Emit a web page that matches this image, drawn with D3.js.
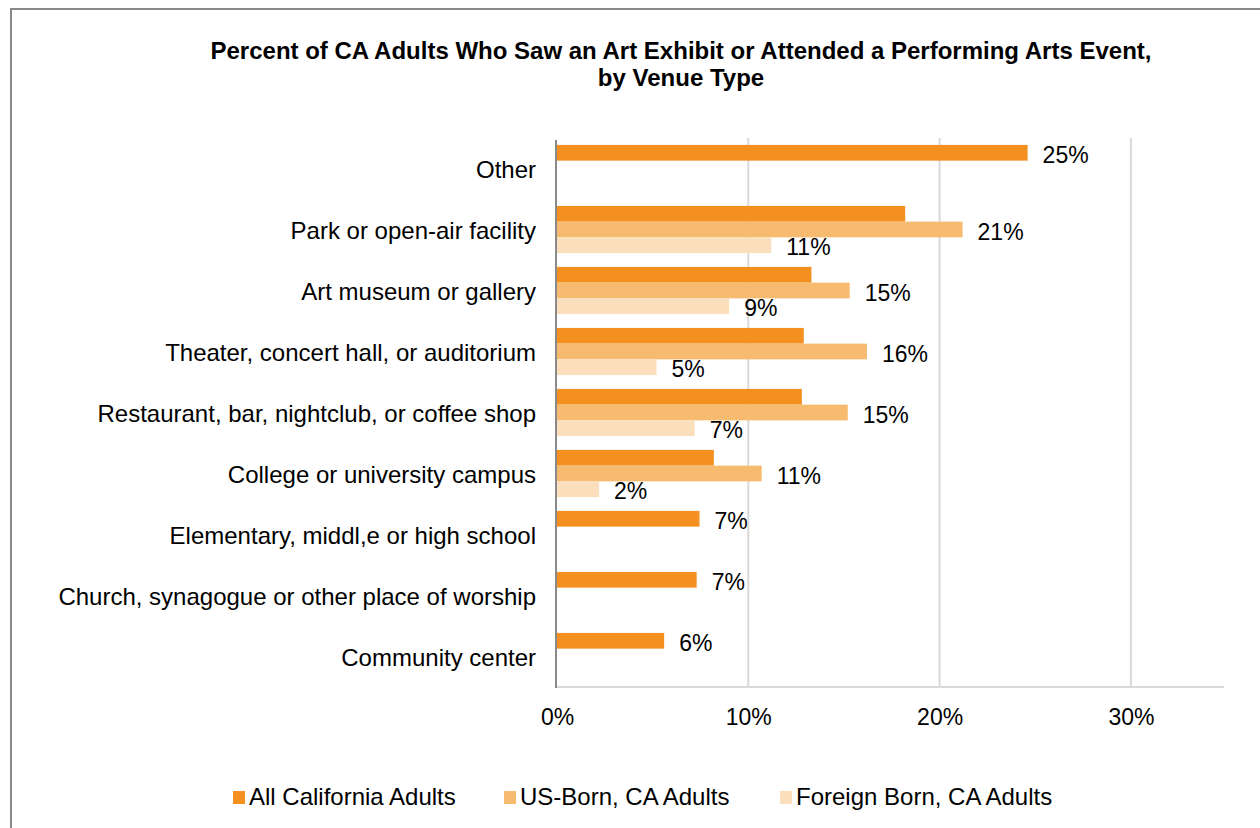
<!DOCTYPE html>
<html>
<head>
<meta charset="utf-8">
<script src="https://cdn.jsdelivr.net/npm/d3@7"></script>
<style>
  html, body { margin: 0; padding: 0; background: #fff; }
  svg { display: block; font-family: "Liberation Sans", Arial, sans-serif; }
</style>
</head>
<body>
<svg id="chart" width="1260" height="828"></svg>
<script>
// Venue categories, top to bottom
const categories = [
  "Other",
  "Park or open-air facility",
  "Art museum or gallery",
  "Theater, concert hall, or auditorium",
  "Restaurant, bar, nightclub, or coffee shop",
  "College or university campus",
  "Elementary, middl,e or high school",
  "Church, synagogue or other place of worship",
  "Community center"
];

// Percent of adults, by group (null = not reported)
const allCA       = [24.6, 18.2, 13.3, 12.9, 12.8, 8.2, 7.45, 7.3, 5.6];
const usBorn      = [null, 21.2, 15.3, 16.2, 15.2, 10.7, null, null, null];
const foreignBorn = [null, 11.2, 9.0, 5.2, 7.2, 2.2, null, null, null];

const seriesNames = ["All California Adults", "US-Born, CA Adults", "Foreign Born, CA Adults"];
const seriesColors = ["#F39020", "#F7BB70", "#FBDFBD"];
const xTicks = [0, 10, 20, 30];

const seriesValues = [allCA, usBorn, foreignBorn];

// Rows: one per category with its three values
const rows = categories.map((c, i) => ({
  category: c,
  values: seriesValues.map((arr, s) => ({ series: s, value: arr[i] }))
}));

const svg = d3.select("#chart");
const FONT = 24;
const SMALL = 23;

// Outer frame
svg.append("path")
  .attr("d", "M11,828 V9 H1260")
  .attr("fill", "none")
  .attr("stroke", "#8a8a8a")
  .attr("stroke-width", 2);

// Title
const title = svg.append("text")
  .attr("text-anchor", "middle")
  .attr("font-weight", "bold")
  .attr("font-size", 24)
  .attr("fill", "#000");
title.append("tspan").attr("x", 681).attr("y", 59)
  .text("Percent of CA Adults Who Saw an Art Exhibit or Attended a Performing Arts Event,");
title.append("tspan").attr("x", 681).attr("y", 86)
  .text("by Venue Type");

// Scales
const plotLeft = 557, plotTop = 138, plotBottom = 687;
const x = d3.scaleLinear().domain([0, 35]).range([plotLeft, plotLeft + 35 * 19.13]);
const y = d3.scaleBand().domain(categories).range([plotTop, plotBottom]).padding(0);
const ySub = d3.scaleBand().domain([0, 1, 2]).range([0, y.bandwidth()])
  .paddingInner(0).paddingOuter(0.44);

// Vertical gridlines
svg.append("g")
  .selectAll("line")
  .data(xTicks.filter(t => t > 0))
  .join("line")
  .attr("x1", d => x(d)).attr("x2", d => x(d))
  .attr("y1", plotTop).attr("y2", plotBottom)
  .attr("stroke", "#d9d9d9")
  .attr("stroke-width", 2);

// Horizontal baseline
svg.append("line")
  .attr("x1", plotLeft).attr("x2", 1224)
  .attr("y1", plotBottom).attr("y2", plotBottom)
  .attr("stroke", "#d9d9d9")
  .attr("stroke-width", 2);

// X-axis tick labels
const xAxis = d3.axisBottom(x)
  .tickValues(xTicks)
  .tickSize(0)
  .tickPadding(0)
  .tickFormat(d => d + "%");
const gx = svg.append("g")
  .attr("transform", `translate(0,${plotBottom})`)
  .call(xAxis);
gx.select(".domain").remove();
gx.selectAll("text")
  .attr("font-size", SMALL)
  .attr("font-family", "Liberation Sans, Arial, sans-serif")
  .attr("fill", "#000")
  .attr("dy", 0)
  .attr("y", 38);

// Bars
const groups = svg.append("g")
  .selectAll("g")
  .data(rows)
  .join("g")
  .attr("transform", d => `translate(0,${y(d.category)})`);

groups.selectAll("rect")
  .data(d => d.values.filter(v => v.value != null))
  .join("rect")
  .attr("x", x(0))
  .attr("y", d => ySub(d.series))
  .attr("width", d => x(d.value) - x(0))
  .attr("height", ySub.bandwidth())
  .attr("fill", d => seriesColors[d.series]);

// Value labels: all groups shown; the overall series only where no breakdown exists
groups.selectAll("text.val")
  .data(d => {
    const split = d.values[1].value != null;
    return d.values.filter(v => v.value != null && !(split && v.series === 0));
  })
  .join("text")
  .attr("class", "val")
  .attr("x", d => x(d.value) + 15)
  .attr("y", d => ySub(d.series) + ySub.bandwidth() / 2 + 10)
  .attr("font-size", SMALL)
  .attr("fill", "#000")
  .text(d => d3.format(".0f")(d.value) + "%");

// Y axis line
svg.append("line")
  .attr("x1", plotLeft - 1).attr("x2", plotLeft - 1)
  .attr("y1", 140).attr("y2", plotBottom + 1)
  .attr("stroke", "#8a8a8a")
  .attr("stroke-width", 2);

// Category labels
svg.append("g")
  .selectAll("text")
  .data(categories)
  .join("text")
  .attr("x", 536)
  .attr("y", d => y(d) + y.bandwidth() / 2 + 9)
  .attr("text-anchor", "end")
  .attr("font-size", FONT)
  .attr("fill", "#000")
  .text(d => d);

// Legend
const legendX = [233, 504, 780];
const legend = svg.append("g")
  .selectAll("g")
  .data(seriesNames)
  .join("g")
  .attr("transform", (d, i) => `translate(${legendX[i]},797)`);
legend.append("rect")
  .attr("x", 0).attr("y", -6)
  .attr("width", 12).attr("height", 13)
  .attr("fill", (d, i) => seriesColors[i]);
legend.append("text")
  .attr("x", 16).attr("y", 8)
  .attr("font-size", FONT)
  .attr("fill", "#000")
  .text(d => d);
</script>
</body>
</html>
